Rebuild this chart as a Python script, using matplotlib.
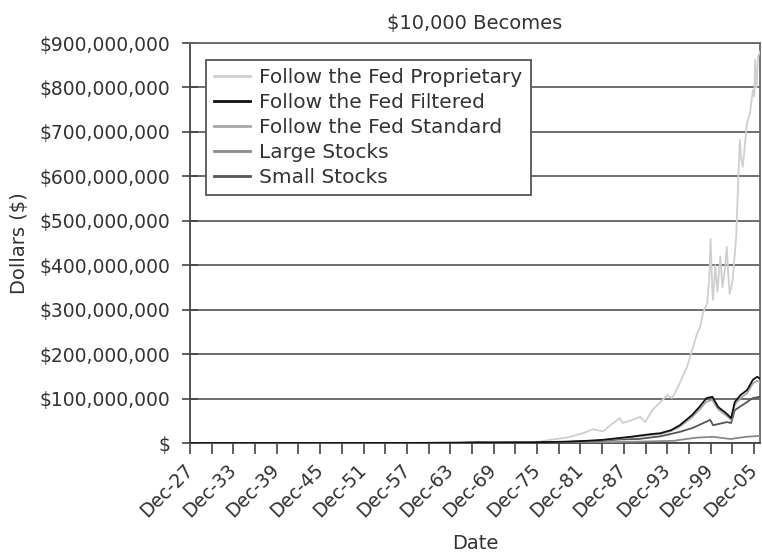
import matplotlib
matplotlib.use("Agg")
import matplotlib.pyplot as plt
from matplotlib.ticker import FuncFormatter, FixedLocator

# ---- data (values in millions of dollars, dates in decimal years) ----
prop_dates = [1927.96, 1940.0, 1950.0, 1960.0, 1965.0, 1970.0, 1975.0, 1976.0, 1977.7,
              1980.0, 1980.5, 1982.3, 1983.7, 1985.1, 1986.1, 1987.4, 1987.8, 1989.2,
              1990.2, 1990.9, 1991.9, 1993.0, 1994.0, 1994.6, 1995.0, 1995.7, 1996.7,
              1997.4, 1998.1, 1998.5, 1998.9, 1999.5, 1999.8, 1999.95, 2000.2, 2000.3,
              2000.6, 2000.9, 2001.3, 2001.6, 2002.0, 2002.2, 2002.4, 2002.6, 2003.0,
              2003.5, 2003.8, 2004.0, 2004.2, 2004.4, 2005.0, 2005.4, 2005.8, 2006.0,
              2006.1, 2006.3, 2006.5, 2006.75]
prop_vals = [0.01, 0.03, 0.08, 0.3, 0.8, 1.5, 1.8, 2, 7,
             12, 14, 22, 31, 26, 40, 56, 45, 52,
             59, 47, 74, 92, 108, 101, 112, 135, 171,
             209, 247, 261, 292, 315, 380, 459, 340, 322,
             400, 340, 420, 350, 400, 441, 380, 335, 367,
             464, 599, 682, 640, 621, 720, 742, 794, 780,
             862, 800, 868, 880]

filt_dates = [1927.96, 1950.0, 1960.0, 1965.0, 1968.0, 1970.0, 1972.0, 1975.0, 1980.0,
              1983.0, 1985.0, 1986.1, 1988.9, 1991.7, 1993.0, 1994.5, 1995.7, 1997.4,
              1998.4, 1999.4, 2000.2, 2001.0, 2002.1, 2002.8, 2003.3, 2004.1, 2005.0,
              2005.8, 2006.4, 2006.75]
filt_vals = [0.01, 0.05, 0.2, 0.5, 1.5, 1.2, 1.5, 1.5, 3,
             5, 7, 9, 14, 20, 22, 29, 40, 63,
             81, 101, 104, 81, 67, 56, 92, 108, 119,
             142, 149, 145]

std_dates = filt_dates
std_vals = [0.01, 0.05, 0.2, 0.5, 1.3, 1.0, 1.3, 1.3, 2.8,
            4.5, 6.5, 8, 13, 18, 20, 27, 37, 58,
            75, 93, 97, 76, 62, 52, 86, 101, 112,
            134, 140, 137]

large_dates = [1927.96, 1950.0, 1960.0, 1970.0, 1980.0, 1985.0, 1990.0, 1995.0, 1995.7,
               1998.0, 2000.3, 2002.7, 2004.9, 2006.75]
large_vals = [0.01, 0.03, 0.1, 0.3, 0.8, 1.5, 3, 5, 7,
              12, 14, 9, 14, 16]

small_dates = [1927.96, 1950.0, 1960.0, 1968.0, 1970.0, 1975.0, 1980.0, 1983.0, 1985.0,
               1987.4, 1990.0, 1993.0, 1995.7, 1997.5, 1999.9, 2000.3, 2002.2, 2002.8,
               2003.3, 2004.8, 2005.8, 2006.75]
small_vals = [0.01, 0.05, 0.2, 0.8, 0.6, 0.7, 2, 4, 5,
              8, 9, 15, 25, 34, 52, 40, 47, 45,
              74, 90, 101, 104]

series_names = ["Follow the Fed Proprietary", "Follow the Fed Filtered",
                "Follow the Fed Standard", "Large Stocks", "Small Stocks"]

tick_years = [1927.96 + 3 * k for k in range(27)]
tick_labels = ["Dec-%02d" % ((27 + 3 * k) % 100) if k % 2 == 0 else "" for k in range(27)]
y_ticks = [0, 100e6, 200e6, 300e6, 400e6, 500e6, 600e6, 700e6, 800e6, 900e6]

# ---- figure ----
plt.rcParams['font.family'] = ['DejaVu Sans']
fig = plt.figure(figsize=(7.62, 5.56), dpi=100)
ax = fig.add_axes([190 / 762, 113 / 556, 570 / 762, 400 / 556])

M = 1e6
colors = ["#cfcfcf", "#111111", "#a8a8a8", "#8a8a8a", "#555555"]
data = [(prop_dates, prop_vals), (filt_dates, filt_vals), (std_dates, std_vals),
        (large_dates, large_vals), (small_dates, small_vals)]
zorders = [3, 6, 5, 4, 4]
for (d, v), c, n, z in zip(data, colors, series_names, zorders):
    ax.plot(d, [x * M for x in v], color=c, lw=1.3, label=n, zorder=z)

ax.set_xlim(1927.96, 2006.79)
ax.set_ylim(0, 900e6)
ax.set_yticks(y_ticks)
ax.yaxis.set_major_formatter(FuncFormatter(lambda v, p: "$" if v == 0 else "${:,.0f}".format(v)))
ax.xaxis.set_major_locator(FixedLocator(tick_years))
ax.set_xticklabels(tick_labels, rotation=45, ha="right", va="center", rotation_mode="anchor")

ax.grid(axis="y", color="#555555", lw=1.2)
ax.set_axisbelow(True)
for s in ax.spines.values():
    s.set_color("#666666")
    s.set_linewidth(1.3)
ax.spines["left"].set_color("#444444")
ax.spines["bottom"].set_color("#444444")

ax.tick_params(axis="y", direction="inout", length=12, width=1.2, color="#444444",
               labelsize=13.5, labelcolor="#333333", pad=8)
ax.tick_params(axis="x", direction="out", length=8, width=1.2, color="#444444",
               labelsize=13.5, labelcolor="#333333", pad=9)

ax.set_title("$10,000 Becomes", fontsize=14, color="#333333", pad=10)
ax.set_xlabel("Date", fontsize=14, color="#333333", labelpad=10)
ax.set_ylabel("Dollars ($)", fontsize=14, color="#333333", labelpad=8)

leg = ax.legend(loc="upper left", bbox_to_anchor=(0.028, 0.9575), fontsize=14.5,
                frameon=True, fancybox=False, edgecolor="#555555", framealpha=1,
                handlelength=1.8, handletextpad=0.45, labelspacing=0.3,
                borderpad=0.4, borderaxespad=0)
leg.get_frame().set_linewidth(1.3)
for t in leg.get_texts():
    t.set_color("#333333")
for l in leg.get_lines():
    l.set_linewidth(2)

fig.savefig("out.png", dpi=100)
